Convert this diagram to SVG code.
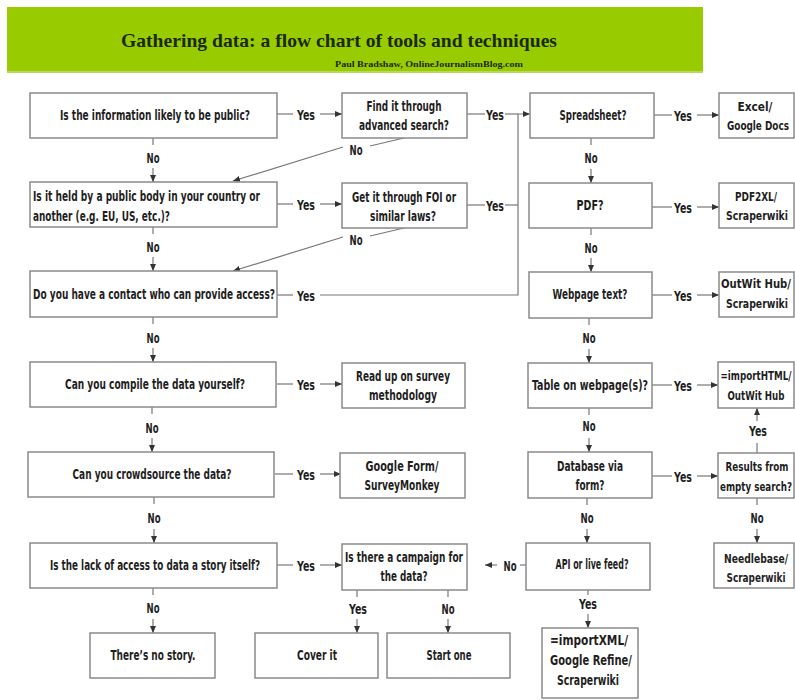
<svg xmlns="http://www.w3.org/2000/svg" width="795" height="700" viewBox="0 0 795 700">
<defs>
<style>
.box{fill:#fff;stroke:#8a8a8a;stroke-width:1.5}
.t{font-family:"Liberation Sans Narrow","DejaVu Sans Condensed","Liberation Sans",sans-serif;font-weight:bold;font-size:14px;fill:#1e1e1e;text-anchor:middle}
.f{font-size:12.5px}
.s{text-anchor:start}
.c{fill:none;stroke:#777;stroke-width:1.2}
.a{fill:none;stroke:#777;stroke-width:1.2;marker-end:url(#ah)}
</style>
<marker id="ah" markerUnits="userSpaceOnUse" markerWidth="8" markerHeight="7" refX="7" refY="3.5" orient="auto">
<path d="M0,0.5 L7,3.5 L0,6.5 z" fill="#333"/>
</marker>
</defs>
<rect width="795" height="700" fill="#fff"/>
<g id="banner">
<rect x="7" y="7" width="696" height="66" fill="#99cc00"/>
<rect x="7" y="71" width="696" height="2" fill="#b8d860"/>
<text x="339" y="47" font-family="Liberation Serif,serif" font-weight="bold" font-size="19" fill="#1a2a00" text-anchor="middle" textLength="436" lengthAdjust="spacingAndGlyphs">Gathering data: a flow chart of tools and techniques</text>
<text x="429" y="67" font-family="Liberation Serif,serif" font-weight="bold" font-size="8" fill="#1a2a00" text-anchor="middle" textLength="188" lengthAdjust="spacingAndGlyphs">Paul Bradshaw, OnlineJournalismBlog.com</text>
</g>

<g id="connectors">
<line class="c" x1="277" y1="114" x2="293" y2="114"/><text class="t" x="306" y="120" textLength="18" lengthAdjust="spacingAndGlyphs">Yes</text><line class="a" x1="320" y1="114" x2="342" y2="114"/>
<line class="c" x1="277" y1="204" x2="293" y2="204"/><text class="t" x="306" y="210" textLength="18" lengthAdjust="spacingAndGlyphs">Yes</text><line class="a" x1="320" y1="204" x2="342" y2="204"/>
<line class="c" x1="277" y1="295" x2="293" y2="295"/><text class="t" x="306" y="301" textLength="18" lengthAdjust="spacingAndGlyphs">Yes</text>
<path class="a" d="M320,295 H518 V114 H530"/>
<line class="c" x1="467" y1="114" x2="485" y2="114"/><text class="t" x="495" y="120" textLength="18" lengthAdjust="spacingAndGlyphs">Yes</text><line class="c" x1="505" y1="114" x2="518" y2="114"/>
<line class="c" x1="467" y1="205" x2="485" y2="205"/><text class="t" x="495" y="211" textLength="18" lengthAdjust="spacingAndGlyphs">Yes</text><line class="c" x1="505" y1="205" x2="518" y2="205"/>
<line class="c" x1="277" y1="384" x2="293" y2="384"/><text class="t" x="306" y="390" textLength="18" lengthAdjust="spacingAndGlyphs">Yes</text><line class="a" x1="320" y1="384" x2="342" y2="384"/>
<line class="c" x1="275" y1="474" x2="293" y2="474"/><text class="t" x="306" y="480" textLength="18" lengthAdjust="spacingAndGlyphs">Yes</text><line class="a" x1="320" y1="474" x2="341" y2="474"/>
<line class="c" x1="277" y1="565" x2="293" y2="565"/><text class="t" x="306" y="571" textLength="18" lengthAdjust="spacingAndGlyphs">Yes</text><line class="a" x1="320" y1="565" x2="342" y2="565"/>
<line class="c" x1="404" y1="138" x2="370" y2="146"/><text class="t" x="356" y="155" textLength="13" lengthAdjust="spacingAndGlyphs">No</text><line class="a" x1="343" y1="147" x2="233" y2="181"/>
<line class="c" x1="404" y1="228" x2="370" y2="236"/><text class="t" x="356" y="245" textLength="13" lengthAdjust="spacingAndGlyphs">No</text><line class="a" x1="343" y1="237" x2="233" y2="271"/>
<line class="c" x1="153" y1="138" x2="153" y2="145"/><text class="t" x="153" y="163" textLength="13" lengthAdjust="spacingAndGlyphs">No</text><line class="a" x1="153" y1="168" x2="153" y2="182"/>
<line class="c" x1="153" y1="227" x2="153" y2="234"/><text class="t" x="153" y="252" textLength="13" lengthAdjust="spacingAndGlyphs">No</text><line class="a" x1="153" y1="257" x2="153" y2="271"/>
<line class="c" x1="153" y1="317" x2="153" y2="324"/><text class="t" x="153" y="343" textLength="13" lengthAdjust="spacingAndGlyphs">No</text><line class="a" x1="153" y1="348" x2="153" y2="362"/>
<line class="c" x1="152" y1="407" x2="152" y2="414"/><text class="t" x="152" y="433" textLength="13" lengthAdjust="spacingAndGlyphs">No</text><line class="a" x1="152" y1="438" x2="152" y2="452"/>
<line class="c" x1="154" y1="497" x2="154" y2="504"/><text class="t" x="154" y="523" textLength="13" lengthAdjust="spacingAndGlyphs">No</text><line class="a" x1="154" y1="529" x2="154" y2="543"/>
<line class="c" x1="153" y1="588" x2="153" y2="595"/><text class="t" x="153" y="613" textLength="13" lengthAdjust="spacingAndGlyphs">No</text><line class="a" x1="153" y1="619" x2="153" y2="633"/>
<line class="c" x1="591" y1="138" x2="591" y2="145"/><text class="t" x="591" y="163" textLength="13" lengthAdjust="spacingAndGlyphs">No</text><line class="a" x1="591" y1="169" x2="591" y2="183"/>
<line class="c" x1="591" y1="228" x2="591" y2="235"/><text class="t" x="591" y="253" textLength="13" lengthAdjust="spacingAndGlyphs">No</text><line class="a" x1="591" y1="258" x2="591" y2="272"/>
<line class="c" x1="589" y1="318" x2="589" y2="325"/><text class="t" x="589" y="343" textLength="13" lengthAdjust="spacingAndGlyphs">No</text><line class="a" x1="589" y1="349" x2="589" y2="363"/>
<line class="c" x1="589" y1="408" x2="589" y2="415"/><text class="t" x="589" y="431" textLength="13" lengthAdjust="spacingAndGlyphs">No</text><line class="a" x1="589" y1="438" x2="589" y2="452"/>
<line class="c" x1="587" y1="498" x2="587" y2="505"/><text class="t" x="587" y="523" textLength="13" lengthAdjust="spacingAndGlyphs">No</text><line class="a" x1="587" y1="529" x2="587" y2="543"/>
<line class="c" x1="654" y1="115" x2="672" y2="115"/><text class="t" x="683" y="121" textLength="18" lengthAdjust="spacingAndGlyphs">Yes</text><line class="a" x1="697" y1="115" x2="719" y2="115"/>
<line class="c" x1="652" y1="207" x2="672" y2="207"/><text class="t" x="683" y="213" textLength="18" lengthAdjust="spacingAndGlyphs">Yes</text><line class="a" x1="697" y1="207" x2="719" y2="207"/>
<line class="c" x1="652" y1="295" x2="672" y2="295"/><text class="t" x="683" y="301" textLength="18" lengthAdjust="spacingAndGlyphs">Yes</text><line class="a" x1="697" y1="295" x2="719" y2="295"/>
<line class="c" x1="652" y1="385" x2="672" y2="385"/><text class="t" x="683" y="391" textLength="18" lengthAdjust="spacingAndGlyphs">Yes</text><line class="a" x1="697" y1="385" x2="718" y2="385"/>
<line class="c" x1="652" y1="476" x2="672" y2="476"/><text class="t" x="683" y="482" textLength="18" lengthAdjust="spacingAndGlyphs">Yes</text><line class="a" x1="697" y1="476" x2="718" y2="476"/>
<line class="c" x1="757" y1="453" x2="757" y2="443"/><text class="t" x="758" y="436" textLength="18" lengthAdjust="spacingAndGlyphs">Yes</text><line class="a" x1="757" y1="421" x2="757" y2="408"/>
<line class="c" x1="757" y1="498" x2="757" y2="505"/><text class="t" x="757" y="523" textLength="13" lengthAdjust="spacingAndGlyphs">No</text><line class="a" x1="757" y1="529" x2="757" y2="543"/>
<line class="c" x1="526" y1="565" x2="520" y2="565"/><text class="t" x="510" y="571" textLength="13" lengthAdjust="spacingAndGlyphs">No</text><line class="a" x1="497" y1="565" x2="485" y2="565"/>
<line class="c" x1="588" y1="590" x2="588" y2="595"/><text class="t" x="588" y="609" textLength="18" lengthAdjust="spacingAndGlyphs">Yes</text><line class="a" x1="588" y1="614" x2="588" y2="628"/>
<line class="c" x1="357" y1="590" x2="357" y2="597"/><text class="t" x="358" y="614" textLength="18" lengthAdjust="spacingAndGlyphs">Yes</text><line class="a" x1="357" y1="619" x2="357" y2="633"/>
<line class="c" x1="448" y1="590" x2="448" y2="597"/><text class="t" x="448" y="614" textLength="13" lengthAdjust="spacingAndGlyphs">No</text><line class="a" x1="448" y1="619" x2="448" y2="633"/>
</g>

<g id="q-public"><rect class="box" x="30" y="93" width="247" height="45"/><text class="t" x="155" y="120" textLength="190" lengthAdjust="spacingAndGlyphs">Is the information likely to be public?</text></g>
<g id="q-publicbody"><rect class="box" x="30" y="182" width="247" height="45"/><text class="t s" x="33" y="201" textLength="227" lengthAdjust="spacingAndGlyphs">Is it held by a public body in your country or</text><text class="t s" x="33" y="221" textLength="137" lengthAdjust="spacingAndGlyphs">another (e.g. EU, US, etc.)?</text></g>
<g id="q-contact"><rect class="box" x="30" y="271" width="247" height="46"/><text class="t" x="154" y="299" textLength="242" lengthAdjust="spacingAndGlyphs">Do you have a contact who can provide access?</text></g>
<g id="q-compile"><rect class="box" x="30" y="362" width="246" height="45"/><text class="t" x="155" y="389" textLength="180" lengthAdjust="spacingAndGlyphs">Can you compile the data yourself?</text></g>
<g id="q-crowd"><rect class="box" x="28" y="452" width="246" height="45"/><text class="t" x="152" y="479" textLength="159" lengthAdjust="spacingAndGlyphs">Can you crowdsource the data?</text></g>
<g id="q-story"><rect class="box" x="30" y="543" width="247" height="45"/><text class="t" x="155" y="570" textLength="210" lengthAdjust="spacingAndGlyphs">Is the lack of access to data a story itself?</text></g>
<g id="nostory"><rect class="box" x="90" y="633" width="125" height="45"/><text class="t" x="153" y="660" textLength="85" lengthAdjust="spacingAndGlyphs">There’s no story.</text></g>

<g id="find"><rect class="box" x="342" y="93" width="125" height="45"/><text class="t" x="404" y="111" textLength="75" lengthAdjust="spacingAndGlyphs">Find it through</text><text class="t" x="404" y="130" textLength="90" lengthAdjust="spacingAndGlyphs">advanced search?</text></g>
<g id="foi"><rect class="box" x="342" y="183" width="125" height="45"/><text class="t" x="404" y="202" textLength="104" lengthAdjust="spacingAndGlyphs">Get it through FOI or</text><text class="t" x="403" y="221" textLength="66" lengthAdjust="spacingAndGlyphs">similar laws?</text></g>
<g id="readup"><rect class="box" x="342" y="363" width="123" height="45"/><text class="t" x="403" y="381" textLength="94" lengthAdjust="spacingAndGlyphs">Read up on survey</text><text class="t" x="403" y="400" textLength="68" lengthAdjust="spacingAndGlyphs">methodology</text></g>
<g id="gform"><rect class="box" x="340" y="453" width="125" height="45"/><text class="t" x="402" y="471" textLength="73" lengthAdjust="spacingAndGlyphs">Google Form/</text><text class="t" x="402" y="490" textLength="75" lengthAdjust="spacingAndGlyphs">SurveyMonkey</text></g>
<g id="campaign"><rect class="box" x="342" y="544" width="125" height="46"/><text class="t" x="404" y="562" textLength="118" lengthAdjust="spacingAndGlyphs">Is there a campaign for</text><text class="t" x="404" y="581" textLength="47" lengthAdjust="spacingAndGlyphs">the data?</text></g>
<g id="cover"><rect class="box" x="255" y="633" width="123" height="45"/><text class="t" x="317" y="660" textLength="40" lengthAdjust="spacingAndGlyphs">Cover it</text></g>
<g id="startone"><rect class="box" x="387" y="633" width="123" height="45"/><text class="t" x="449" y="660" textLength="45" lengthAdjust="spacingAndGlyphs">Start one</text></g>

<g id="spreadsheet"><rect class="box" x="530" y="93" width="124" height="45"/><text class="t" x="593" y="120" textLength="67" lengthAdjust="spacingAndGlyphs">Spreadsheet?</text></g>
<g id="pdf"><rect class="box" x="529" y="183" width="123" height="45"/><text class="t" x="590" y="210" textLength="27" lengthAdjust="spacingAndGlyphs">PDF?</text></g>
<g id="webtext"><rect class="box" x="529" y="272" width="123" height="46"/><text class="t" x="590" y="299" textLength="75" lengthAdjust="spacingAndGlyphs">Webpage text?</text></g>
<g id="table"><rect class="box" x="528" y="363" width="124" height="45"/><text class="t" x="590" y="390" textLength="116" lengthAdjust="spacingAndGlyphs">Table on webpage(s)?</text></g>
<g id="database"><rect class="box" x="528" y="452" width="124" height="46"/><text class="t" x="590" y="471" textLength="66" lengthAdjust="spacingAndGlyphs">Database via</text><text class="t" x="590" y="490" textLength="29" lengthAdjust="spacingAndGlyphs">form?</text></g>
<g id="api"><rect class="box" x="526" y="543" width="124" height="47"/><text class="t" x="592" y="569" textLength="73" lengthAdjust="spacingAndGlyphs">API or live feed?</text></g>
<g id="importxml"><rect class="box" x="542" y="628" width="96" height="70"/><text class="t" x="589" y="645" textLength="78" lengthAdjust="spacingAndGlyphs">=importXML/</text><text class="t" x="591" y="665" textLength="82" lengthAdjust="spacingAndGlyphs">Google Refine/</text><text class="t" x="588" y="685" textLength="62" lengthAdjust="spacingAndGlyphs">Scraperwiki</text></g>

<g id="excel"><rect class="box" x="719" y="93" width="75" height="45"/><text class="t f" x="755" y="111" textLength="35" lengthAdjust="spacingAndGlyphs">Excel/</text><text class="t f" x="758" y="130" textLength="62" lengthAdjust="spacingAndGlyphs">Google Docs</text></g>
<g id="pdf2xl"><rect class="box" x="719" y="183" width="75" height="45"/><text class="t f" x="756" y="201" textLength="42" lengthAdjust="spacingAndGlyphs">PDF2XL/</text><text class="t f" x="757" y="220" textLength="62" lengthAdjust="spacingAndGlyphs">Scraperwiki</text></g>
<g id="outwit"><rect class="box" x="719" y="272" width="75" height="45"/><text class="t f" x="756" y="288" textLength="70" lengthAdjust="spacingAndGlyphs">OutWit Hub/</text><text class="t f" x="757" y="308" textLength="62" lengthAdjust="spacingAndGlyphs">Scraperwiki</text></g>
<g id="importhtml"><rect class="box" x="718" y="362" width="76" height="46"/><text class="t f" x="756" y="380" textLength="71" lengthAdjust="spacingAndGlyphs">=importHTML/</text><text class="t f" x="756" y="400" textLength="57" lengthAdjust="spacingAndGlyphs">OutWit Hub</text></g>
<g id="results"><rect class="box" x="718" y="453" width="76" height="45"/><text class="t f" x="757" y="471" textLength="63" lengthAdjust="spacingAndGlyphs">Results from</text><text class="t f" x="756" y="491" textLength="72" lengthAdjust="spacingAndGlyphs">empty search?</text></g>
<g id="needlebase"><rect class="box" x="714" y="543" width="80" height="45"/><text class="t f" x="756" y="563" textLength="64" lengthAdjust="spacingAndGlyphs">Needlebase/</text><text class="t f" x="756" y="582" textLength="59" lengthAdjust="spacingAndGlyphs">Scraperwiki</text></g>
</svg>
